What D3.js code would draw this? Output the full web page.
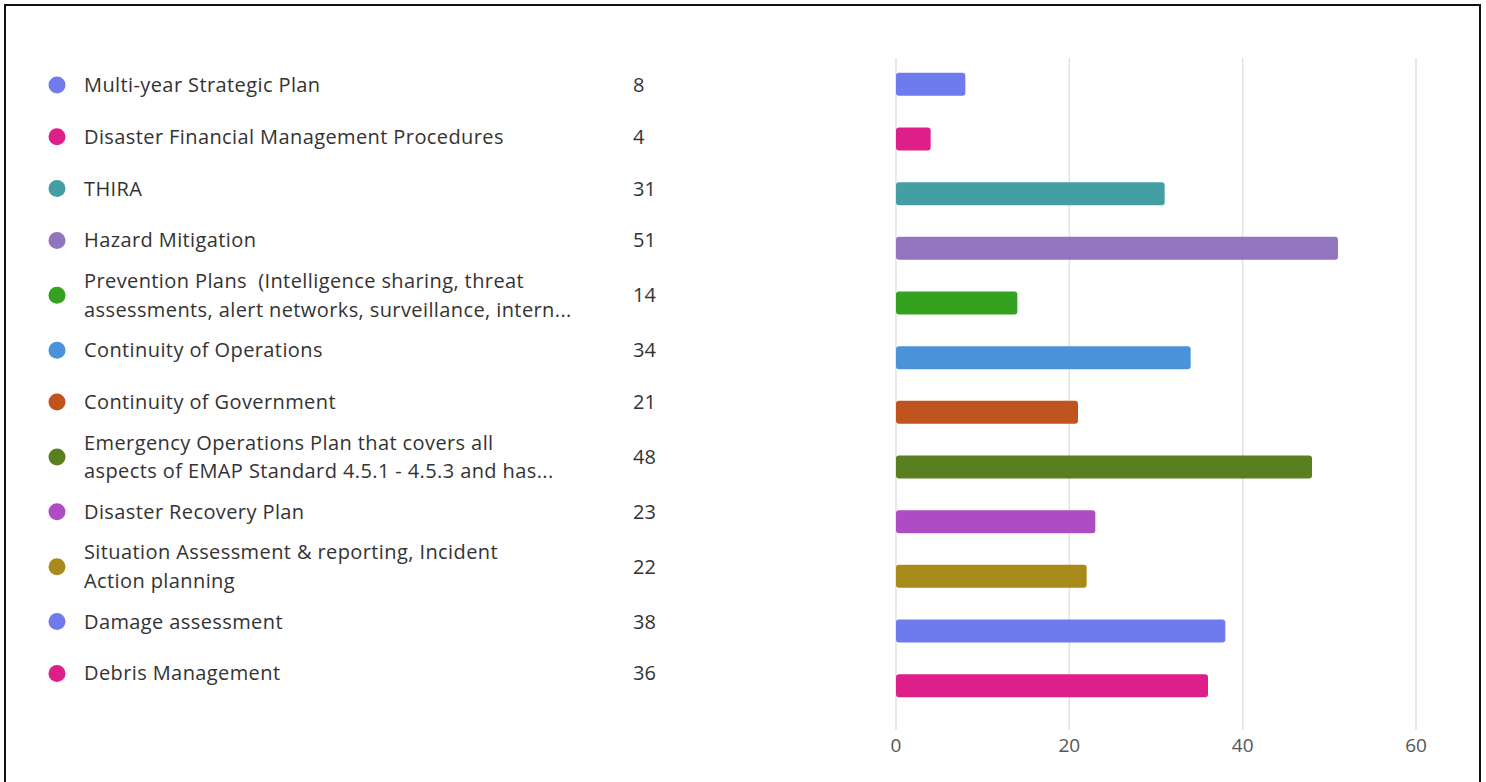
<!DOCTYPE html>
<html>
<head>
<meta charset="utf-8">
<script src="https://cdn.jsdelivr.net/npm/d3@7"></script>
<style>
  body { margin: 0; background: #fff; }
  svg text { font-family: "Open Sans", "Noto Sans", sans-serif; }
</style>
</head>
<body>
<div id="chart"></div>
<script>
// categories (line-wrapped as they show in the legend)
const categories = [
    ["Multi-year Strategic Plan"],
    ["Disaster Financial Management Procedures"],
    ["THIRA"],
    ["Hazard Mitigation"],
    ["Prevention Plans  (Intelligence sharing, threat", "assessments, alert networks, surveillance, intern..."],
    ["Continuity of Operations"],
    ["Continuity of Government"],
    ["Emergency Operations Plan that covers all", "aspects of EMAP Standard 4.5.1 - 4.5.3 and has..."],
    ["Disaster Recovery Plan"],
    ["Situation Assessment & reporting, Incident", "Action planning"],
    ["Damage assessment"],
    ["Debris Management"]
]
const values = [8, 4, 31, 51, 14, 34, 21, 48, 23, 22, 38, 36]
const colors = ["#6f7bed", "#df1f89", "#439fa3", "#9375bf", "#34a11f", "#4a92d9",
                "#c0541e", "#5a7f20", "#ae4cc4", "#a88a1b", "#6f7bed", "#df1f89"]
const xTicks = [0, 20, 40, 60]

let width = 1486, height = 782

let svg = d3.select("#chart").append("svg")
    .attr("width", width)
    .attr("height", height)

// outer frame
svg.append("rect")
    .attr("x", 5).attr("y", 5)
    .attr("width", 1475).attr("height", 800)
    .attr("fill", "none")
    .attr("stroke", "#111")
    .attr("stroke-width", 2)

let ids = d3.range(categories.length)

let x = d3.scaleLinear().domain([0, 60]).range([896, 1416])
let y = d3.scaleBand().domain(ids).range([57, 713])
    .paddingInner(0.58).paddingOuter(0.29)

// gridlines
svg.append("g").selectAll("line")
    .data(xTicks)
    .enter().append("line")
    .attr("x1", d => x(d)).attr("x2", d => x(d))
    .attr("y1", 58).attr("y2", 730)
    .attr("stroke", "#e2e2e2")
    .attr("stroke-width", 1.5)

// tick labels
svg.append("g").selectAll("text")
    .data(xTicks)
    .enter().append("text")
    .attr("x", d => x(d))
    .attr("y", 752)
    .attr("text-anchor", "middle")
    .attr("fill", "#555")
    .style("font-size", "19px")
    .text(d => d)

// bars
svg.append("g").selectAll("rect")
    .data(ids)
    .enter().append("rect")
    .attr("x", x(0))
    .attr("y", i => y(i))
    .attr("width", i => x(values[i]) - x(0))
    .attr("height", y.bandwidth())
    .attr("rx", 3)
    .attr("fill", i => colors[i])

// legend rows: single line rows are shorter than wrapped ones
let rowH = n => n > 1 ? 58 : 51.8
let centers = []
let cy = 85
ids.forEach(i => {
    if (i > 0) cy += (rowH(categories[i - 1].length) + rowH(categories[i].length)) / 2
    centers.push(cy)
})

let rows = svg.append("g").selectAll("g")
    .data(ids)
    .enter().append("g")
    .attr("transform", i => "translate(0," + centers[i] + ")")

rows.append("circle")
    .attr("cx", 57)
    .attr("cy", 0)
    .attr("r", 8.5)
    .attr("fill", i => colors[i])

rows.append("text")
    .attr("x", 84)
    .attr("fill", "#333")
    .style("font-size", "20px")
    .style("letter-spacing", "0.4px")
    .style("white-space", "pre")
    .each(function(i) {
        let lines = categories[i]
        let t = d3.select(this)
        lines.forEach((ln, k) => {
            t.append("tspan")
                .attr("x", 84)
                .attr("y", (k - (lines.length - 1) / 2) * 28.5)
                .attr("dy", "0.35em")
                .text(ln)
        })
    })

rows.append("text")
    .attr("x", 633)
    .attr("dy", "0.35em")
    .attr("fill", "#333")
    .style("font-size", "20px")
    .text(i => values[i])
</script>
</body>
</html>
